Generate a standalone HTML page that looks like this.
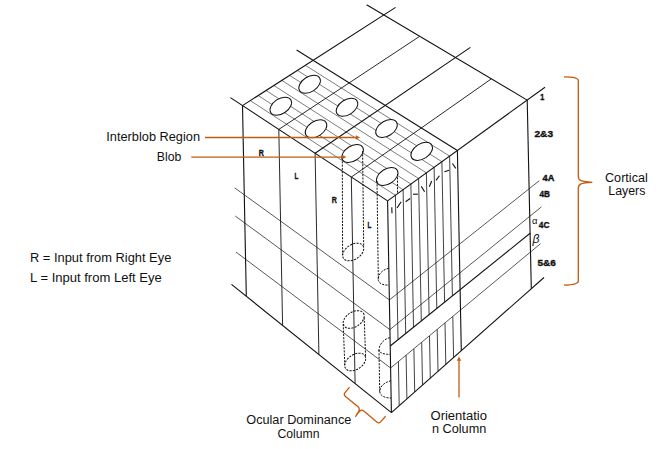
<!DOCTYPE html>
<html><head><meta charset="utf-8"><title>Cortical hypercolumn</title>
<style>
html,body{margin:0;padding:0;background:#fff;}
body{width:671px;height:449px;overflow:hidden;font-family:"Liberation Sans",sans-serif;}
svg{display:block;}
text{font-family:"Liberation Sans",sans-serif;fill:#111;}
</style></head><body>
<svg width="671" height="449" viewBox="0 0 671 449">
<rect width="671" height="449" fill="#fff"/>
<g stroke="#111" fill="none" stroke-linecap="butt">
<line x1="230.4" y1="97.6" x2="387.6" y2="200.9" stroke-width="1.1" />
<line x1="242.5" y1="105.6" x2="395.6" y2="7.4" stroke-width="1.1" />
<line x1="366.6" y1="4.8" x2="527.2" y2="100.1" stroke-width="1.1" />
<line x1="387.6" y1="200.9" x2="545.0" y2="87.2" stroke-width="1.1" />
<line x1="278.8" y1="129.4" x2="419.7" y2="36.3" stroke-width="0.9" />
<line x1="315.1" y1="153.2" x2="470.4" y2="47.4" stroke-width="1.1" />
<line x1="351.3" y1="177.1" x2="491.4" y2="78.8" stroke-width="0.9" />
<line x1="296.6" y1="50.0" x2="457.4" y2="150.5" stroke-width="1.1" />
<line x1="250.3" y1="100.6" x2="395.4" y2="195.3" stroke-width="0.55" />
<line x1="258.2" y1="95.5" x2="403.1" y2="189.7" stroke-width="0.55" />
<line x1="266.1" y1="90.5" x2="410.9" y2="184.1" stroke-width="0.55" />
<line x1="273.9" y1="85.5" x2="418.6" y2="178.5" stroke-width="0.55" />
<line x1="281.8" y1="80.4" x2="426.4" y2="172.9" stroke-width="0.55" />
<line x1="289.6" y1="75.4" x2="434.1" y2="167.3" stroke-width="0.55" />
<line x1="297.4" y1="70.4" x2="441.9" y2="161.7" stroke-width="0.55" />
<line x1="305.3" y1="65.3" x2="449.6" y2="156.1" stroke-width="0.55" />
<line x1="242.5" y1="105.6" x2="246.3" y2="296.3" stroke-width="1.1" />
<line x1="387.6" y1="200.9" x2="391.4" y2="412.6" stroke-width="1.1" />
<line x1="527.2" y1="100.1" x2="531.3" y2="288.8" stroke-width="1.1" />
<line x1="231.5" y1="284.4" x2="391.4" y2="412.6" stroke-width="1.1" />
<line x1="391.4" y1="412.6" x2="544.0" y2="277.5" stroke-width="1.1" />
<line x1="278.8" y1="129.4" x2="282.6" y2="325.4" stroke-width="0.9" />
<line x1="315.1" y1="153.2" x2="318.9" y2="354.5" stroke-width="0.9" />
<line x1="351.3" y1="177.1" x2="355.1" y2="383.5" stroke-width="0.9" />
<line x1="389.4" y1="299.9" x2="234.6" y2="187.8" stroke-width="0.7" />
<line x1="389.9" y1="329.6" x2="235.2" y2="216.0" stroke-width="0.7" />
<line x1="390.6" y1="368.0" x2="236.0" y2="252.1" stroke-width="0.7" />
<line x1="389.4" y1="299.9" x2="539.3" y2="180.7" stroke-width="0.7" />
<line x1="389.9" y1="329.6" x2="541.4" y2="206.9" stroke-width="0.7" />
<line x1="390.2" y1="346.0" x2="530.1" y2="233.3" stroke-width="1.1" />
<line x1="390.6" y1="368.0" x2="540.5" y2="243.7" stroke-width="0.7" />
<line x1="395.4" y1="195.3" x2="398.0" y2="339.8" stroke-width="0.8" />
<line x1="398.4" y1="361.6" x2="399.2" y2="405.7" stroke-width="0.8" />
<line x1="403.1" y1="189.7" x2="405.7" y2="333.5" stroke-width="0.8" />
<line x1="406.1" y1="355.1" x2="406.9" y2="398.8" stroke-width="0.8" />
<line x1="410.9" y1="184.1" x2="413.5" y2="327.3" stroke-width="0.8" />
<line x1="413.9" y1="348.7" x2="414.7" y2="392.0" stroke-width="0.8" />
<line x1="418.6" y1="178.5" x2="421.3" y2="321.0" stroke-width="0.8" />
<line x1="421.7" y1="342.3" x2="422.5" y2="385.1" stroke-width="0.8" />
<line x1="426.4" y1="172.9" x2="429.1" y2="314.8" stroke-width="0.8" />
<line x1="429.5" y1="335.9" x2="430.3" y2="378.2" stroke-width="0.8" />
<line x1="434.1" y1="167.3" x2="436.8" y2="308.5" stroke-width="0.8" />
<line x1="437.2" y1="329.4" x2="438.0" y2="371.3" stroke-width="0.8" />
<line x1="441.9" y1="161.7" x2="444.6" y2="302.3" stroke-width="0.8" />
<line x1="445.0" y1="323.0" x2="445.8" y2="364.5" stroke-width="0.8" />
<line x1="449.6" y1="156.1" x2="452.4" y2="296.0" stroke-width="0.8" />
<line x1="452.8" y1="316.5" x2="453.6" y2="357.6" stroke-width="0.8" />
<line x1="457.4" y1="150.5" x2="461.3" y2="350.7" stroke-width="1.1" />
<line x1="391.8" y1="207.2" x2="392.0" y2="213.2" stroke-width="1.1" />
<line x1="397.1" y1="207.9" x2="401.2" y2="201.8" stroke-width="1.1" />
<line x1="405.6" y1="201.8" x2="410.1" y2="198.5" stroke-width="1.1" />
<line x1="413.0" y1="194.2" x2="417.9" y2="194.2" stroke-width="1.1" />
<line x1="421.3" y1="186.4" x2="424.6" y2="191.8" stroke-width="1.1" />
<line x1="429.3" y1="186.8" x2="431.7" y2="181.0" stroke-width="1.1" />
<line x1="436.0" y1="180.4" x2="439.4" y2="175.7" stroke-width="1.1" />
<line x1="444.4" y1="171.8" x2="449.1" y2="170.2" stroke-width="1.1" />
<line x1="452.4" y1="163.5" x2="455.8" y2="168.4" stroke-width="1.1" />
<ellipse cx="280.8" cy="106.2" rx="11.9" ry="7.5" transform="rotate(-33 280.8 106.2)" stroke-width="1.0" fill="#fff"/>
<ellipse cx="309.6" cy="84.3" rx="11.9" ry="7.5" transform="rotate(-33 309.6 84.3)" stroke-width="1.0" fill="#fff"/>
<ellipse cx="316" cy="128.8" rx="11.9" ry="7.5" transform="rotate(-33 316 128.8)" stroke-width="1.0" fill="#fff"/>
<ellipse cx="347" cy="107.3" rx="11.9" ry="7.5" transform="rotate(-33 347 107.3)" stroke-width="1.0" fill="#fff"/>
<ellipse cx="352.6" cy="153.5" rx="11.9" ry="7.5" transform="rotate(-33 352.6 153.5)" stroke-width="1.0" fill="#fff"/>
<ellipse cx="386.5" cy="128.5" rx="11.9" ry="7.5" transform="rotate(-33 386.5 128.5)" stroke-width="1.0" fill="#fff"/>
<ellipse cx="387.2" cy="176.5" rx="11.9" ry="7.5" transform="rotate(-33 387.2 176.5)" stroke-width="1.0" fill="#fff"/>
<ellipse cx="421.7" cy="151.4" rx="11.9" ry="7.5" transform="rotate(-33 421.7 151.4)" stroke-width="1.0" fill="#fff"/>
<line x1="342.3" y1="158.0" x2="342.6" y2="255.0" stroke-width="1" stroke-dasharray="2.1 1.2"/>
<line x1="362.6" y1="151.0" x2="363.7" y2="247.0" stroke-width="1" stroke-dasharray="2.1 1.2"/>
<ellipse cx="353.2" cy="252" rx="11.6" ry="7.4" transform="rotate(-33 353.2 252)" stroke-width="1" fill="none" stroke-dasharray="2.1 1.2" />
<line x1="377.0" y1="181.0" x2="378.3" y2="279.0" stroke-width="1" stroke-dasharray="2.1 1.2"/>
<line x1="397.5" y1="174.0" x2="397.5" y2="193.5" stroke-width="1" stroke-dasharray="2.1 1.2"/>
<path d="M388.7 268.2 C383 269.5 378 274 378.2 279.5 C378.5 283.5 383 285.5 389 285" stroke-width="1" fill="none" stroke-dasharray="2.1 1.2"/>
<ellipse cx="353.7" cy="319.5" rx="11.6" ry="7.4" transform="rotate(-33 353.7 319.5)" stroke-width="1" fill="none" stroke-dasharray="2.1 1.2" />
<ellipse cx="355.2" cy="362" rx="11.6" ry="7.4" transform="rotate(-33 355.2 362)" stroke-width="1" fill="none" stroke-dasharray="2.1 1.2" />
<line x1="343.2" y1="324.0" x2="344.8" y2="365.0" stroke-width="1" stroke-dasharray="2.1 1.2"/>
<line x1="364.2" y1="317.5" x2="365.6" y2="357.5" stroke-width="1" stroke-dasharray="2.1 1.2"/>
<path d="M389.8 337.6 C384 339 379 344.5 379 350 C379.3 353 384 354.5 390 354.3" stroke-width="1" fill="none" stroke-dasharray="2.1 1.2"/>
<path d="M391 380.8 C385 382 380 386 379.7 391.5 C380 396 385 398 391 398" stroke-width="1" fill="none" stroke-dasharray="2.1 1.2"/>
<line x1="379.0" y1="350.0" x2="379.7" y2="391.5" stroke-width="1" stroke-dasharray="2.1 1.2"/>
</g>

<g stroke="#C55A11" stroke-width="1.3" fill="none" stroke-linecap="butt">
<line x1="205" y1="137.5" x2="357" y2="137.5"/>
<line x1="191.3" y1="157.1" x2="343" y2="157.1"/>
<line x1="459" y1="397.5" x2="459" y2="360"/>
<path d="M564 76.8 C571 76.8 578.3 77.2 578.3 80.5 L578.3 176.5 C578.3 180.5 581 181.8 592.3 182.3 C581 182.8 578.3 184 578.3 188 L578.3 281.3 C578.3 284.5 571 285 564 285.2"/>
<path d="M349.5 387.2 L345 392.6 Q343.4 394.7 345.4 396.4 L357.8 406.6 Q360.3 408.6 358.6 411.6 L355.6 416.3 L359.3 411.6 Q361.4 408.9 363.8 410.9 L376.8 421.9 Q379 423.8 380.8 421.7 L385.6 416.2" stroke-linejoin="round"/>
</g>
<g fill="#C55A11" stroke="none">
<path d="M360 137.5 L355.8 135.3 L355.8 139.7 Z"/>
<path d="M346.4 157.1 L342.2 154.9 L342.2 159.3 Z"/>
<path d="M459 356.6 L456.8 360.8 L461.2 360.8 Z"/>
</g>

<g>
<text x="106.3" y="141.3" font-size="12.3" textLength="93.7" lengthAdjust="spacingAndGlyphs" >Interblob Region</text>
<text x="156.8" y="161.3" font-size="12.3" textLength="24.5" lengthAdjust="spacingAndGlyphs" >Blob</text>
<text x="30" y="262" font-size="12.3" textLength="141.3" lengthAdjust="spacingAndGlyphs" >R = Input from Right Eye</text>
<text x="30" y="282" font-size="12.3" textLength="131.8" lengthAdjust="spacingAndGlyphs" >L = Input from Left Eye</text>
<text x="246.3" y="423.8" font-size="12.3" textLength="105.0" lengthAdjust="spacingAndGlyphs" >Ocular Dominance</text>
<text x="277.5" y="437.5" font-size="12.3" textLength="42.0" lengthAdjust="spacingAndGlyphs" >Column</text>
<text x="430.5" y="419.5" font-size="12.3" textLength="56.5" lengthAdjust="spacingAndGlyphs" >Orientatio</text>
<text x="432" y="433.3" font-size="12.3" textLength="54.3" lengthAdjust="spacingAndGlyphs" >n Column</text>
<text x="605" y="182.1" font-size="12.3" textLength="42.8" lengthAdjust="spacingAndGlyphs" >Cortical</text>
<text x="608.3" y="195.4" font-size="12.3" textLength="37.1" lengthAdjust="spacingAndGlyphs" >Layers</text>
<text x="540.2" y="100" font-size="8.6" textLength="4.0" lengthAdjust="spacingAndGlyphs" font-weight="bold" stroke="#111" stroke-width="0.35">1</text>
<text x="534.5" y="137" font-size="8.8" textLength="18.5" lengthAdjust="spacingAndGlyphs" font-weight="bold" stroke="#111" stroke-width="0.35">2&amp;3</text>
<text x="542.5" y="181.3" font-size="8.6" textLength="11.8" lengthAdjust="spacingAndGlyphs" font-weight="bold" stroke="#111" stroke-width="0.35">4A</text>
<text x="539.5" y="197" font-size="8.6" textLength="10.5" lengthAdjust="spacingAndGlyphs" font-weight="bold" stroke="#111" stroke-width="0.35">4B</text>
<text x="538.8" y="228" font-size="8.6" textLength="10.7" lengthAdjust="spacingAndGlyphs" font-weight="bold" stroke="#111" stroke-width="0.35">4C</text>
<text x="537.5" y="266.3" font-size="8.8" textLength="18.3" lengthAdjust="spacingAndGlyphs" font-weight="bold" stroke="#111" stroke-width="0.35">5&amp;6</text>
<text x="532" y="224" font-size="9" textLength="5.5" lengthAdjust="spacingAndGlyphs" >α</text>
<text x="532.5" y="243" font-size="13" textLength="7.0" lengthAdjust="spacingAndGlyphs" font-style="italic">β</text>
<text x="258.7" y="156.3" font-size="8.8" textLength="5.1" lengthAdjust="spacingAndGlyphs" font-weight="bold" stroke="#111" stroke-width="0.35">R</text>
<text x="294.5" y="179" font-size="8.8" textLength="3.8" lengthAdjust="spacingAndGlyphs" font-weight="bold" stroke="#111" stroke-width="0.35">L</text>
<text x="331.8" y="203" font-size="8.8" textLength="5.1" lengthAdjust="spacingAndGlyphs" font-weight="bold" stroke="#111" stroke-width="0.35">R</text>
<text x="367.6" y="227.5" font-size="8.8" textLength="3.8" lengthAdjust="spacingAndGlyphs" font-weight="bold" stroke="#111" stroke-width="0.35">L</text>
</g>
</svg>
</body></html>
